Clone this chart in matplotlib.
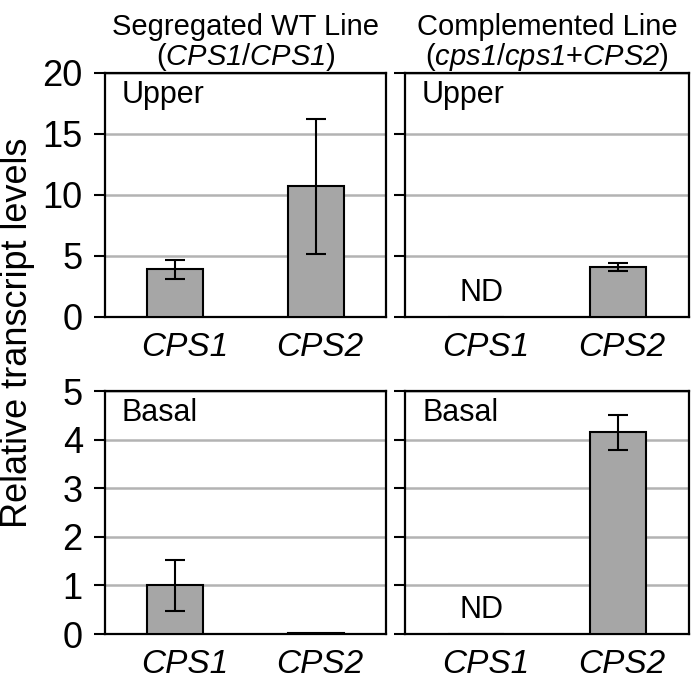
import numpy as np
import matplotlib
matplotlib.use('Agg')
import matplotlib.pyplot as plt
import matplotlib.transforms as mtransforms

plt.rcParams['font.family'] = ['Liberation Sans', 'DejaVu Sans']
plt.rcParams['mathtext.fontset'] = 'custom'
plt.rcParams['mathtext.rm'] = 'Liberation Sans:italic'
plt.rcParams['mathtext.it'] = 'Liberation Sans:italic'

genes = ['CPS1', 'CPS2']

wt_upper = [3.9, 10.7]
wt_upper_err = [0.8, 5.5]
comp_upper = [0.0, 4.1]
comp_upper_err = [0.0, 0.3]

wt_basal = [1.0, 0.03]
wt_basal_err = [0.52, 0.0]
comp_basal = [0.0, 4.15]
comp_basal_err = [0.0, 0.36]

titles = ['Segregated WT Line\n($\\mathrm{CPS1}$/$\\mathrm{CPS1}$)',
          'Complemented Line\n($\\mathrm{cps1}$/$\\mathrm{cps1}$+$\\mathrm{CPS2}$)']

fig = plt.figure(figsize=(6.95, 6.87), dpi=100)

lx = [0.1511, 0.5827]
wx = [0.4043, 0.4086]
by = [0.5386, 0.0771]
hy = [0.3552, 0.3537]

bar_c = '#a6a6a6'
grid_c = '#b3b3b3'

panels = [
    (0, 0, wt_upper, wt_upper_err, 20, 5, 'Upper', False),
    (0, 1, comp_upper, comp_upper_err, 20, 5, 'Upper', True),
    (1, 0, wt_basal, wt_basal_err, 5, 1, 'Basal', False),
    (1, 1, comp_basal, comp_basal_err, 5, 1, 'Basal', True),
]

# excel puts the labels a little right of the bars
lab_shift = [10, 4]

x = np.arange(len(genes))
for r, c, vals, errs, ymax, step, tag, nd in panels:
    ax = fig.add_axes([lx[c], by[r], wx[c], hy[r]])
    ax.bar(x, vals, width=0.4, color=bar_c, edgecolor='black', linewidth=1.5, zorder=3)
    vals = np.array(vals)
    errs = np.array(errs)
    m = errs > 0
    ax.errorbar(x[m], vals[m], yerr=errs[m], fmt='none', ecolor='black',
                elinewidth=1.5, capsize=7.5, capthick=1.5, zorder=4)
    ax.set_xlim(-0.5, 1.5)
    ax.set_ylim(0, ymax)
    ax.set_yticks(np.arange(0, ymax + step, step))
    ax.yaxis.grid(True, color=grid_c, linewidth=1.8, zorder=0)
    ax.set_axisbelow(True)
    for s in ax.spines.values():
        s.set_linewidth(1.6)
    ax.tick_params(axis='y', direction='out', length=8, width=1.5, labelsize=26, pad=8)
    ax.tick_params(axis='x', length=0, labelsize=24, pad=11)
    ax.set_xticks(x)
    ax.set_xticklabels(genes, style='italic')
    for i, lab in enumerate(ax.get_xticklabels()):
        lab.set_transform(lab.get_transform() +
                          mtransforms.ScaledTranslation(lab_shift[i] / 100, 0, fig.dpi_scale_trans))
    if c == 1:
        ax.set_yticklabels([])
    ax.text(0.06, 0.97, tag, transform=ax.transAxes, ha='left', va='top', fontsize=22)
    if nd:
        ax.text(0.04, 0.1, 'ND', transform=ax.get_xaxis_transform(), ha='center', va='center', fontsize=22)
    if r == 0:
        ax.set_title(titles[c], fontsize=21, pad=6, linespacing=1.0)

fig.text(0.0, 0.515, 'Relative transcript levels', rotation=90, ha='left', va='center', fontsize=26)

fig.savefig('out.png', dpi=100)
